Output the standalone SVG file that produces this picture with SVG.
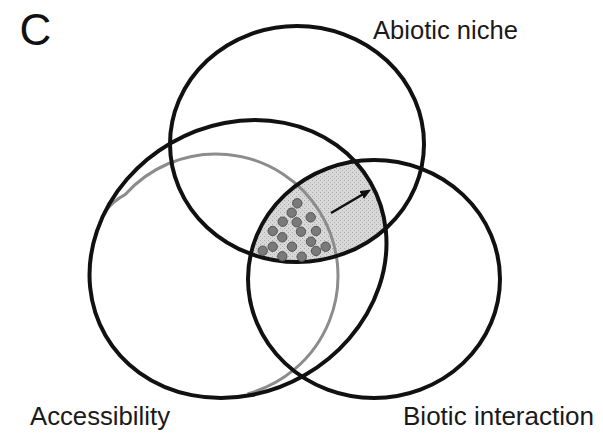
<svg xmlns="http://www.w3.org/2000/svg" width="603" height="434" viewBox="0 0 603 434">
  <style>
    .ring { fill: none; stroke: #111; stroke-width: 4; }
    .gray { fill: none; stroke: #8c8c8c; stroke-width: 3; }
    .dot { fill: #7a7a7a; stroke: #555; stroke-width: 1; }
    .lbl { font-family: "Liberation Sans", Arial, sans-serif; font-size: 25px; fill: #1a1a1a; }
    .arrow { stroke: #111; stroke-width: 2.6; fill: none; }
  </style>
  <defs>
    <clipPath id="clipTop"><ellipse cx="297" cy="144" rx="127" ry="118"/></clipPath>
    <clipPath id="clipLeft"><ellipse cx="238" cy="259" rx="153" ry="134" transform="rotate(-30 238 259)"/></clipPath>
    <pattern id="stipple" width="4" height="4" patternUnits="userSpaceOnUse">
      <rect width="4" height="4" fill="#d8d8d8"/>
      <rect x="0" y="0" width="1" height="1" fill="#a9a9a9"/>
      <rect x="2" y="2" width="1" height="1" fill="#b4b4b4"/>
    </pattern>
    <marker id="head" viewBox="0 0 11 9" refX="2" refY="4.5" markerWidth="11" markerHeight="9" markerUnits="userSpaceOnUse" orient="auto">
      <path d="M0,0 L11,4.5 L0,9 z" fill="#111"/>
    </marker>
  </defs>
  <rect width="603" height="434" fill="#fff"/>

  <g id="overlap-region">
    <g clip-path="url(#clipTop)">
      <g clip-path="url(#clipLeft)">
        <ellipse cx="374" cy="279" rx="126" ry="119" fill="url(#stipple)"/>
      </g>
    </g>
  </g>

  <g id="accessibility-realised">
    <path class="gray" d="M104,213 Q113,201 125,194.7 A122,122 0 1 1 247.6,393.8"/>
  </g>

  <g id="abiotic-niche">
    <ellipse class="ring" cx="297" cy="144" rx="127" ry="118"/>
    <text class="lbl" x="373" y="38.5" textLength="145" lengthAdjust="spacingAndGlyphs">Abiotic niche</text>
  </g>

  <g id="accessibility">
    <ellipse class="ring" cx="238" cy="259" rx="153" ry="134" transform="rotate(-30 238 259)"/>
    <text class="lbl" x="30" y="425" textLength="140" lengthAdjust="spacingAndGlyphs">Accessibility</text>
  </g>

  <g id="biotic-interaction">
    <ellipse class="ring" cx="374" cy="279" rx="126" ry="119"/>
    <text class="lbl" x="403" y="425" textLength="191" lengthAdjust="spacingAndGlyphs">Biotic interaction</text>
  </g>

  <g id="populations">
    <circle class="dot" cx="297.3" cy="203.3" r="4.7"/>
    <circle class="dot" cx="291.7" cy="212.7" r="4.7"/>
    <circle class="dot" cx="310.7" cy="217.3" r="4.7"/>
    <circle class="dot" cx="282.7" cy="221.7" r="4.7"/>
    <circle class="dot" cx="296.7" cy="222.3" r="4.7"/>
    <circle class="dot" cx="301" cy="231.7" r="4.7"/>
    <circle class="dot" cx="316" cy="231" r="4.7"/>
    <circle class="dot" cx="272.7" cy="231" r="4.7"/>
    <circle class="dot" cx="282.3" cy="237.3" r="4.7"/>
    <circle class="dot" cx="311" cy="241.7" r="4.7"/>
    <circle class="dot" cx="292" cy="246.7" r="4.7"/>
    <circle class="dot" cx="272.7" cy="246.7" r="4.7"/>
    <circle class="dot" cx="325.7" cy="246.7" r="4.7"/>
    <circle class="dot" cx="316" cy="251" r="4.7"/>
    <circle class="dot" cx="262.7" cy="250.7" r="4.7"/>
    <circle class="dot" cx="282.3" cy="256.3" r="4.7"/>
    <circle class="dot" cx="301.7" cy="256.7" r="4.7"/>
  </g>

  <g id="connectors">
    <line class="arrow" x1="331" y1="213" x2="363.4" y2="194" marker-end="url(#head)"/>
  </g>

  <g id="panel-label">
    <text x="19.5" y="45" font-family="Liberation Sans, Arial, sans-serif" font-size="44" fill="#111">C</text>
  </g>
</svg>
